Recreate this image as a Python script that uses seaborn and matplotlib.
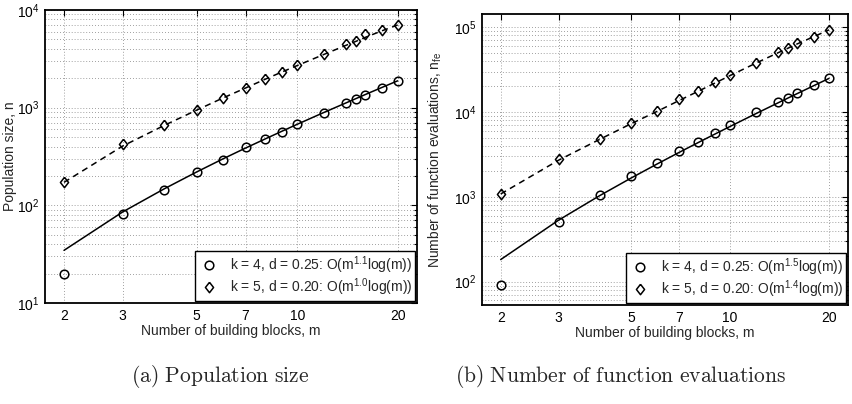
import matplotlib
matplotlib.use("Agg")
import matplotlib.pyplot as plt
import seaborn as sns
from matplotlib.ticker import FixedLocator, FixedFormatter, NullLocator, LogLocator, NullFormatter

# ---------------- data ----------------
m = [2, 3, 4, 5, 6, 7, 8, 9, 10, 12, 14, 15, 16, 18, 20]

# (a) population size
pop_k4 = [20, 82, 144, 222, 291, 395, 473, 566, 677, 889, 1115, 1224, 1335, 1595, 1885]
pop_k4_fit = [34.6, 85.7, 148, 220, 300, 386, 477, 574, 676, 891, 1119, 1239, 1364, 1619, 1884]
pop_k5 = [175, 421, 671, 955, 1264, 1585, 1957, 2340, 2737, 3540, 4440, 4840, 5660, 6270, 7030]
pop_k5_fit = [172, 405, 660, 945, 1260, 1590, 1950, 2320, 2700, 3500, 4350, 4780, 5250, 6150, 7030]

# (b) number of function evaluations
nfe_k4 = [92, 508, 1054, 1771, 2525, 3508, 4484, 5686, 6946, 10000, 13270, 14800, 16670, 20900, 24900]
nfe_k4_fit = [182, 530, 1030, 1671, 2447, 3348, 4371, 5511, 6765, 9597, 12840, 14610, 16480, 20500, 24900]
nfe_k5 = [1082, 2793, 4868, 7470, 10280, 14130, 17750, 22280, 27480, 37830, 50600, 56450, 65300, 76270, 93300]
nfe_k5_fit = [1080, 2700, 4750, 7300, 10200, 13700, 17600, 22000, 26900, 37800, 50000, 56500, 63500, 77500, 93000]

x_ticks = [2, 3, 5, 7, 10, 20]
x_tick_labels = ["2", "3", "5", "7", "10", "20"]

legend_pop = [r"k = 4, d = 0.25: O($\mathregular{m^{1.1}}$log(m))",
              r"k = 5, d = 0.20: O($\mathregular{m^{1.0}}$log(m))"]
legend_nfe = [r"k = 4, d = 0.25: O($\mathregular{m^{1.5}}$log(m))",
              r"k = 5, d = 0.20: O($\mathregular{m^{1.4}}$log(m))"]

xlabel = "Number of building blocks, m"
ylabel_pop = "Population size, n"
ylabel_nfe = r"Number of function evaluations, $\mathregular{n_{fe}}$"
caption_a = r"$\mathrm{(a)\ Population\ size}$"
caption_b = r"$\mathrm{(b)\ Number\ of\ function\ evaluations}$"

# ---------------- style ----------------
sns.set_style("white")
plt.rcParams["font.family"] = ["Liberation Sans", "DejaVu Sans"]
plt.rcParams["mathtext.fontset"] = "cm"
plt.rcParams["axes.linewidth"] = 1.3

diamond = [(0, 1), (0.78, 0), (0, -1), (-0.78, 0), (0, 1)]

fig = plt.figure(figsize=(8.52, 4.04), dpi=100)
axL = fig.add_axes([0.0528, 0.25, 0.4366, 0.7252])
axR = fig.add_axes([0.5657, 0.245, 0.4296, 0.7203])


def panel(ax, y4, f4, y5, f5, ylim, ylabel, labels, ylab_x):
    ax.set_xscale("log")
    ax.set_yscale("log")
    sns.lineplot(x=m, y=f4, ax=ax, color="k", lw=1.1, estimator=None, sort=False)
    sns.lineplot(x=m, y=f5, ax=ax, color="k", lw=1.1, estimator=None, sort=False)
    ax.lines[-1].set_dashes([4, 3])
    sns.lineplot(x=m, y=y4, ax=ax, color="k", linestyle="", marker="o", ms=6.2,
                 mfc="none", mec="k", mew=1.1, estimator=None, sort=False)
    h4 = ax.lines[-1]
    sns.lineplot(x=m, y=y5, ax=ax, color="k", linestyle="", marker=diamond, ms=7.5,
                 mfc="none", mec="k", mew=1.1, estimator=None, sort=False)
    h5 = ax.lines[-1]

    ax.set_xlim(1.754, 22.85)
    ax.set_ylim(*ylim)
    ax.xaxis.set_major_locator(FixedLocator(x_ticks))
    ax.xaxis.set_major_formatter(FixedFormatter(x_tick_labels))
    ax.xaxis.set_minor_locator(NullLocator())
    ax.yaxis.set_minor_locator(LogLocator(base=10, subs=range(2, 10), numticks=20))
    ax.yaxis.set_minor_formatter(NullFormatter())

    ax.grid(True, which="major", axis="both", color="0.5", lw=0.6, dashes=(1, 2.5))
    ax.grid(True, which="minor", axis="y", color="0.5", lw=0.6, dashes=(1, 2.5))
    ax.set_axisbelow(True)
    ax.tick_params(which="both", direction="in", top=True, right=True,
                   labelsize=10, colors="k", width=0.8)
    ax.tick_params(which="major", length=4, pad=4)
    ax.tick_params(which="minor", length=2)
    for s in ax.spines.values():
        s.set_color("k")
        s.set_linewidth(1.3)

    ax.set_xlabel(xlabel, fontsize=10, labelpad=1)
    ax.set_ylabel(ylabel, fontsize=10)
    ax.yaxis.set_label_coords(ylab_x, 0.5)

    leg = ax.legend(handles=[h4, h5], labels=labels, loc="lower right",
                    fontsize=10, frameon=True, fancybox=False, edgecolor="k",
                    framealpha=1, borderaxespad=0.15, borderpad=0.2,
                    labelspacing=0.05, handletextpad=0.7, handlelength=1.6)
    leg.get_frame().set_linewidth(1.0)


panel(axL, pop_k4, pop_k4_fit, pop_k5, pop_k5_fit, (10, 1e4), ylabel_pop, legend_pop, -0.075)
panel(axR, nfe_k4, nfe_k4_fit, nfe_k5, nfe_k5_fit, (53, 1.43e5), ylabel_nfe, legend_nfe, -0.104)

fig.text(0.258, 0.069, caption_a, ha="center", va="center", fontsize=15.5)
fig.text(0.728, 0.069, caption_b, ha="center", va="center", fontsize=15.5)

fig.savefig("out.png", dpi=100)
